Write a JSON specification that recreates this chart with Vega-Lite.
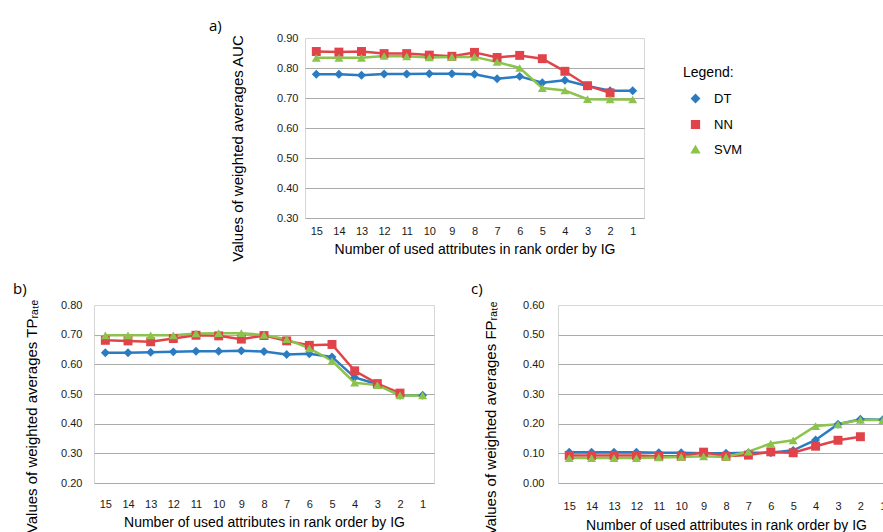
{
  "$schema": "https://vega.github.io/schema/vega-lite/v6.json",
  "padding": {"left": 12, "top": 18, "right": 0, "bottom": 0},
  "background": "white",
  "data": {"values": [
    {"p":"a","m":"DT","n":15,"v":0.779},{"p":"a","m":"DT","n":14,"v":0.779},{"p":"a","m":"DT","n":13,"v":0.776},{"p":"a","m":"DT","n":12,"v":0.780},{"p":"a","m":"DT","n":11,"v":0.780},{"p":"a","m":"DT","n":10,"v":0.781},{"p":"a","m":"DT","n":9,"v":0.781},{"p":"a","m":"DT","n":8,"v":0.779},{"p":"a","m":"DT","n":7,"v":0.764},{"p":"a","m":"DT","n":6,"v":0.772},{"p":"a","m":"DT","n":5,"v":0.751},{"p":"a","m":"DT","n":4,"v":0.759},{"p":"a","m":"DT","n":3,"v":0.740},{"p":"a","m":"DT","n":2,"v":0.724},{"p":"a","m":"DT","n":1,"v":0.724},
    {"p":"a","m":"NN","n":15,"v":0.855},{"p":"a","m":"NN","n":14,"v":0.853},{"p":"a","m":"NN","n":13,"v":0.855},{"p":"a","m":"NN","n":12,"v":0.848},{"p":"a","m":"NN","n":11,"v":0.848},{"p":"a","m":"NN","n":10,"v":0.843},{"p":"a","m":"NN","n":9,"v":0.839},{"p":"a","m":"NN","n":8,"v":0.852},{"p":"a","m":"NN","n":7,"v":0.835},{"p":"a","m":"NN","n":6,"v":0.842},{"p":"a","m":"NN","n":5,"v":0.831},{"p":"a","m":"NN","n":4,"v":0.789},{"p":"a","m":"NN","n":3,"v":0.741},{"p":"a","m":"NN","n":2,"v":0.717},
    {"p":"a","m":"SVM","n":15,"v":0.834},{"p":"a","m":"SVM","n":14,"v":0.834},{"p":"a","m":"SVM","n":13,"v":0.834},{"p":"a","m":"SVM","n":12,"v":0.840},{"p":"a","m":"SVM","n":11,"v":0.839},{"p":"a","m":"SVM","n":10,"v":0.835},{"p":"a","m":"SVM","n":9,"v":0.837},{"p":"a","m":"SVM","n":8,"v":0.837},{"p":"a","m":"SVM","n":7,"v":0.820},{"p":"a","m":"SVM","n":6,"v":0.800},{"p":"a","m":"SVM","n":5,"v":0.733},{"p":"a","m":"SVM","n":4,"v":0.725},{"p":"a","m":"SVM","n":3,"v":0.696},{"p":"a","m":"SVM","n":2,"v":0.695},{"p":"a","m":"SVM","n":1,"v":0.695},
    {"p":"b","m":"DT","n":15,"v":0.639},{"p":"b","m":"DT","n":14,"v":0.639},{"p":"b","m":"DT","n":13,"v":0.641},{"p":"b","m":"DT","n":12,"v":0.642},{"p":"b","m":"DT","n":11,"v":0.644},{"p":"b","m":"DT","n":10,"v":0.644},{"p":"b","m":"DT","n":9,"v":0.646},{"p":"b","m":"DT","n":8,"v":0.643},{"p":"b","m":"DT","n":7,"v":0.633},{"p":"b","m":"DT","n":6,"v":0.636},{"p":"b","m":"DT","n":5,"v":0.625},{"p":"b","m":"DT","n":4,"v":0.556},{"p":"b","m":"DT","n":3,"v":0.533},{"p":"b","m":"DT","n":2,"v":0.496},{"p":"b","m":"DT","n":1,"v":0.496},
    {"p":"b","m":"NN","n":15,"v":0.681},{"p":"b","m":"NN","n":14,"v":0.679},{"p":"b","m":"NN","n":13,"v":0.676},{"p":"b","m":"NN","n":12,"v":0.687},{"p":"b","m":"NN","n":11,"v":0.698},{"p":"b","m":"NN","n":10,"v":0.696},{"p":"b","m":"NN","n":9,"v":0.685},{"p":"b","m":"NN","n":8,"v":0.697},{"p":"b","m":"NN","n":7,"v":0.679},{"p":"b","m":"NN","n":6,"v":0.664},{"p":"b","m":"NN","n":5,"v":0.667},{"p":"b","m":"NN","n":4,"v":0.578},{"p":"b","m":"NN","n":3,"v":0.535},{"p":"b","m":"NN","n":2,"v":0.503},
    {"p":"b","m":"SVM","n":15,"v":0.698},{"p":"b","m":"SVM","n":14,"v":0.698},{"p":"b","m":"SVM","n":13,"v":0.698},{"p":"b","m":"SVM","n":12,"v":0.698},{"p":"b","m":"SVM","n":11,"v":0.704},{"p":"b","m":"SVM","n":10,"v":0.705},{"p":"b","m":"SVM","n":9,"v":0.705},{"p":"b","m":"SVM","n":8,"v":0.699},{"p":"b","m":"SVM","n":7,"v":0.685},{"p":"b","m":"SVM","n":6,"v":0.654},{"p":"b","m":"SVM","n":5,"v":0.612},{"p":"b","m":"SVM","n":4,"v":0.538},{"p":"b","m":"SVM","n":3,"v":0.530},{"p":"b","m":"SVM","n":2,"v":0.495},{"p":"b","m":"SVM","n":1,"v":0.495},
    {"p":"c","m":"DT","n":15,"v":0.104},{"p":"c","m":"DT","n":14,"v":0.104},{"p":"c","m":"DT","n":13,"v":0.104},{"p":"c","m":"DT","n":12,"v":0.104},{"p":"c","m":"DT","n":11,"v":0.102},{"p":"c","m":"DT","n":10,"v":0.102},{"p":"c","m":"DT","n":9,"v":0.100},{"p":"c","m":"DT","n":8,"v":0.100},{"p":"c","m":"DT","n":7,"v":0.102},{"p":"c","m":"DT","n":6,"v":0.102},{"p":"c","m":"DT","n":5,"v":0.110},{"p":"c","m":"DT","n":4,"v":0.145},{"p":"c","m":"DT","n":3,"v":0.198},{"p":"c","m":"DT","n":2,"v":0.215},{"p":"c","m":"DT","n":1,"v":0.213},
    {"p":"c","m":"NN","n":15,"v":0.093},{"p":"c","m":"NN","n":14,"v":0.093},{"p":"c","m":"NN","n":13,"v":0.093},{"p":"c","m":"NN","n":12,"v":0.093},{"p":"c","m":"NN","n":11,"v":0.090},{"p":"c","m":"NN","n":10,"v":0.090},{"p":"c","m":"NN","n":9,"v":0.104},{"p":"c","m":"NN","n":8,"v":0.090},{"p":"c","m":"NN","n":7,"v":0.094},{"p":"c","m":"NN","n":6,"v":0.105},{"p":"c","m":"NN","n":5,"v":0.102},{"p":"c","m":"NN","n":4,"v":0.124},{"p":"c","m":"NN","n":3,"v":0.144},{"p":"c","m":"NN","n":2,"v":0.156},
    {"p":"c","m":"SVM","n":15,"v":0.084},{"p":"c","m":"SVM","n":14,"v":0.084},{"p":"c","m":"SVM","n":13,"v":0.084},{"p":"c","m":"SVM","n":12,"v":0.084},{"p":"c","m":"SVM","n":11,"v":0.086},{"p":"c","m":"SVM","n":10,"v":0.088},{"p":"c","m":"SVM","n":9,"v":0.090},{"p":"c","m":"SVM","n":8,"v":0.088},{"p":"c","m":"SVM","n":7,"v":0.106},{"p":"c","m":"SVM","n":6,"v":0.133},{"p":"c","m":"SVM","n":5,"v":0.144},{"p":"c","m":"SVM","n":4,"v":0.192},{"p":"c","m":"SVM","n":3,"v":0.198},{"p":"c","m":"SVM","n":2,"v":0.213},{"p":"c","m":"SVM","n":1,"v":0.212}
  ]},
  "bounds": "flush",
  "spacing": 267,
  "resolve": {"scale": {"color": "independent", "shape": "independent"}},
  "vconcat": [
    {
      "bounds": "flush",
      "spacing": 0,
      "resolve": {"scale": {"color": "independent", "shape": "independent"}},
      "hconcat": [
        {"width": 211, "height": 10, "data": {"values": []}, "mark": "point", "view": {"stroke": null}},
        {
          "width": 339, "height": 180,
          "title": {"text": "a)", "anchor": "start", "frame": "group", "dx": -96, "offset": -2, "font": "Open Sans", "fontSize": 15, "fontWeight": "normal"},
          "transform": [{"filter": "datum.p === 'a'"}],
          "encoding": {
            "x": {"field": "n", "type": "ordinal", "sort": "descending", "scale": {"type": "point", "padding": 0.5},
                  "axis": {"title": "Number of used attributes in rank order by IG", "labelPadding": 7, "titlePadding": 6}},
            "y": {"field": "v", "type": "quantitative", "scale": {"domain": [0.3, 0.9]},
                  "axis": {"title": "Values of weighted averages AUC", "values": [0.3,0.4,0.5,0.6,0.7,0.8,0.9], "format": ".2f", "labelPadding": 7, "titlePadding": 31, "titleY": 110}},
            "color": {"field": "m", "type": "nominal", "scale": {"domain": ["DT","NN","SVM"], "range": ["#2a7bc2","#e0444a","#8cc34c"]},
                      "legend": {"orient": "none", "legendX": 378, "legendY": 28, "title": "Legend:", "titleFontSize": 14, "titleFontWeight": "normal", "titlePadding": 12, "labelFontSize": 13, "rowPadding": 11, "symbolSize": 60, "symbolOffset": 6, "labelOffset": 12}},
            "shape": {"field": "m", "type": "nominal", "scale": {"domain": ["DT","NN","SVM"], "range": ["diamond","square","triangle-up"]},
                      "legend": {"orient": "none", "legendX": 378, "legendY": 28, "title": "Legend:", "titleFontSize": 14, "titleFontWeight": "normal", "titlePadding": 12, "labelFontSize": 13, "rowPadding": 11, "symbolSize": 60, "symbolOffset": 6, "labelOffset": 12}}
          },
          "layer": [
            {"mark": {"type": "line", "strokeWidth": 2.5}},
            {"mark": {"type": "point", "filled": true, "opacity": 1, "size": 80}}
          ]
        }
      ]
    },
    {
      "bounds": "flush",
      "spacing": 124,
      "resolve": {"scale": {"color": "independent", "shape": "independent"}},
      "hconcat": [
        {
          "width": 340, "height": 178,
          "title": {"text": "b)", "anchor": "start", "frame": "group", "dx": -81, "offset": 2, "font": "Open Sans", "fontSize": 15, "fontWeight": "normal"},
          "transform": [{"filter": "datum.p === 'b'"}],
          "encoding": {
            "x": {"field": "n", "type": "ordinal", "sort": "descending", "scale": {"type": "point", "padding": 0.5},
                  "axis": {"title": "Number of used attributes in rank order by IG", "labelPadding": 15, "titlePadding": 6}},
            "y": {"field": "v", "type": "quantitative", "scale": {"domain": [0.2, 0.8]},
                  "axis": {"title": "Values of weighted averages TPᵣₐₜₑ", "values": [0.2,0.3,0.4,0.5,0.6,0.7,0.8], "format": ".2f", "labelPadding": 12, "titlePadding": 21, "titleY": 111}},
            "color": {"field": "m", "type": "nominal", "scale": {"domain": ["DT","NN","SVM"], "range": ["#2a7bc2","#e0444a","#8cc34c"]}, "legend": null},
            "shape": {"field": "m", "type": "nominal", "scale": {"domain": ["DT","NN","SVM"], "range": ["diamond","square","triangle-up"]}, "legend": null}
          },
          "layer": [
            {"mark": {"type": "line", "strokeWidth": 2.5}},
            {"mark": {"type": "point", "filled": true, "opacity": 1, "size": 80}}
          ]
        },
        {
          "width": 336, "height": 178,
          "title": {"text": "c)", "anchor": "start", "frame": "group", "dx": -87, "offset": 2, "font": "Open Sans", "fontSize": 15, "fontWeight": "normal"},
          "transform": [{"filter": "datum.p === 'c'"}],
          "encoding": {
            "x": {"field": "n", "type": "ordinal", "sort": "descending", "scale": {"type": "point", "padding": 0.5},
                  "axis": {"title": "Number of used attributes in rank order by IG", "labelPadding": 17, "titlePadding": 7}},
            "y": {"field": "v", "type": "quantitative", "scale": {"domain": [0, 0.6]},
                  "axis": {"title": "Values of weighted averages FPᵣₐₜₑ", "values": [0,0.1,0.2,0.3,0.4,0.5,0.6], "format": ".2f", "labelPadding": 14, "titlePadding": 24, "titleY": 113}},
            "color": {"field": "m", "type": "nominal", "scale": {"domain": ["DT","NN","SVM"], "range": ["#2a7bc2","#e0444a","#8cc34c"]}, "legend": null},
            "shape": {"field": "m", "type": "nominal", "scale": {"domain": ["DT","NN","SVM"], "range": ["diamond","square","triangle-up"]}, "legend": null}
          },
          "layer": [
            {"mark": {"type": "line", "strokeWidth": 2.5}},
            {"mark": {"type": "point", "filled": true, "opacity": 1, "size": 80}}
          ]
        }
      ]
    }
  ],
  "config": {
    "font": "Liberation Sans",
    "view": {"stroke": "#d6d6d6"},
    "axis": {"labelFont": "Liberation Sans", "labelFontSize": 11, "labelColor": "#1a1a1a", "titleFont": "Liberation Sans", "titleFontWeight": "normal", "titleColor": "#000000", "ticks": false, "tickSize": 0, "domain": false, "labelAngle": 0},
    "axisX": {"grid": false, "titleFontSize": 14},
    "axisY": {"grid": true, "gridColor": {"condition": {"test": "datum.index == 1", "value": "#d6d6d6"}, "value": "#ababab"}, "gridWidth": 1, "titleFontSize": 15},
    "legend": {"labelFont": "Liberation Sans", "titleFont": "Liberation Sans", "labelColor": "#000000", "titleColor": "#000000"}
  }
}
